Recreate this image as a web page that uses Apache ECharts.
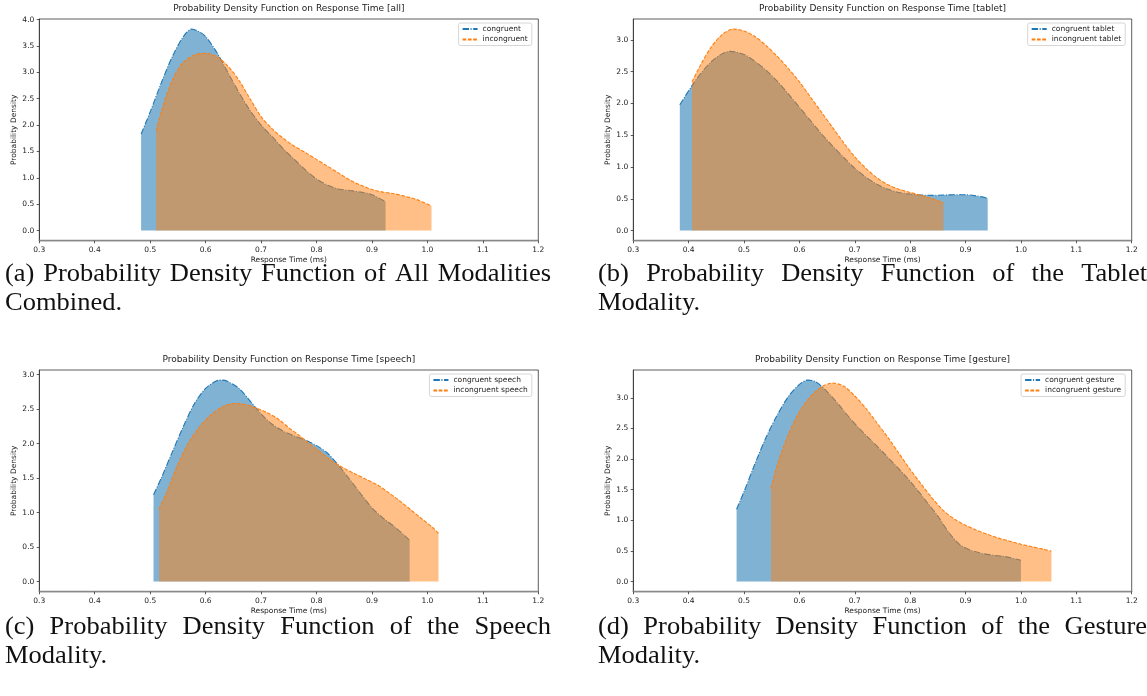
<!DOCTYPE html>
<html>
<head>
<meta charset="utf-8">
<script src="https://cdn.jsdelivr.net/npm/echarts@6/dist/echarts.min.js"></script>
<style>
  html, body { margin: 0; padding: 0; background: #fff; }
  #chart { width: 1147px; height: 696px; }
</style>
</head>
<body>
<div id="chart"></div>
<script>
// tick labels
const xTicks = [0.3, 0.4, 0.5, 0.6, 0.7, 0.8, 0.9, 1.0, 1.1, 1.2]
const yTicksAll = [0, 0.5, 1, 1.5, 2, 2.5, 3, 3.5, 4]
const yTicksTablet = [0, 0.5, 1, 1.5, 2, 2.5, 3]
const yTicksSpeech = [0, 0.5, 1, 1.5, 2, 2.5, 3]
const yTicksGesture = [0, 0.5, 1, 1.5, 2, 2.5, 3]

// [all]
const allCongX = [0.4836, 0.50, 0.52, 0.54, 0.56, 0.575, 0.59, 0.60, 0.62, 0.64, 0.66, 0.68, 0.70, 0.72, 0.74, 0.76, 0.78, 0.80, 0.82, 0.84, 0.86, 0.88, 0.90, 0.9245]
const allCongY = [1.83, 2.25, 2.80, 3.30, 3.68, 3.82, 3.76, 3.68, 3.38, 3.00, 2.62, 2.28, 2.00, 1.78, 1.55, 1.35, 1.15, 0.98, 0.86, 0.79, 0.76, 0.73, 0.68, 0.55]
const allIncX = [0.5107, 0.52, 0.53, 0.54, 0.55, 0.56, 0.58, 0.60, 0.62, 0.64, 0.66, 0.68, 0.70, 0.72, 0.74, 0.76, 0.78, 0.80, 0.82, 0.84, 0.86, 0.88, 0.90, 0.92, 0.94, 0.96, 0.98, 1.0074]
const allIncY = [1.89, 2.25, 2.58, 2.85, 3.05, 3.19, 3.33, 3.36, 3.30, 3.12, 2.85, 2.50, 2.16, 1.93, 1.75, 1.60, 1.48, 1.35, 1.22, 1.09, 0.96, 0.86, 0.78, 0.73, 0.70, 0.65, 0.59, 0.47]

// [tablet]
const tabletCongX = [0.384, 0.406, 0.42, 0.44, 0.46, 0.475, 0.50, 0.52, 0.54, 0.56, 0.58, 0.60, 0.62, 0.64, 0.66, 0.68, 0.70, 0.72, 0.74, 0.76, 0.78, 0.80, 0.82, 0.84, 0.86, 0.88, 0.90, 0.92, 0.94]
const tabletCongY = [1.98, 2.28, 2.45, 2.65, 2.78, 2.82, 2.77, 2.66, 2.52, 2.35, 2.15, 1.94, 1.73, 1.52, 1.33, 1.15, 0.98, 0.84, 0.73, 0.65, 0.60, 0.575, 0.56, 0.555, 0.56, 0.565, 0.565, 0.545, 0.51]
const tabletIncX = [0.406, 0.42, 0.44, 0.46, 0.48, 0.50, 0.52, 0.54, 0.56, 0.58, 0.60, 0.62, 0.64, 0.66, 0.68, 0.70, 0.72, 0.74, 0.76, 0.78, 0.80, 0.82, 0.84, 0.86]
const tabletIncY = [2.34, 2.58, 2.88, 3.08, 3.17, 3.14, 3.05, 2.91, 2.74, 2.55, 2.34, 2.10, 1.86, 1.62, 1.38, 1.16, 0.98, 0.83, 0.72, 0.65, 0.60, 0.555, 0.50, 0.44]

// [speech]
const speechCongX = [0.506, 0.52, 0.54, 0.56, 0.58, 0.60, 0.62, 0.63, 0.64, 0.66, 0.68, 0.70, 0.72, 0.74, 0.76, 0.78, 0.80, 0.82, 0.84, 0.86, 0.88, 0.90, 0.92, 0.94, 0.96, 0.968]
const speechCongY = [1.26, 1.50, 1.88, 2.25, 2.58, 2.80, 2.91, 2.92, 2.90, 2.80, 2.62, 2.43, 2.28, 2.18, 2.11, 2.05, 1.97, 1.86, 1.68, 1.48, 1.27, 1.07, 0.92, 0.80, 0.66, 0.60]
const speechIncX = [0.516, 0.53, 0.55, 0.57, 0.59, 0.61, 0.63, 0.65, 0.67, 0.69, 0.71, 0.73, 0.75, 0.77, 0.79, 0.81, 0.83, 0.85, 0.87, 0.89, 0.91, 0.93, 0.95, 0.97, 0.99, 1.01, 1.02]
const speechIncY = [1.05, 1.30, 1.70, 2.02, 2.25, 2.42, 2.53, 2.58, 2.57, 2.52, 2.45, 2.36, 2.23, 2.11, 1.98, 1.86, 1.74, 1.64, 1.56, 1.48, 1.40, 1.29, 1.17, 1.04, 0.91, 0.78, 0.70]

// [gesture]
const gestureCongX = [0.4865, 0.50, 0.52, 0.54, 0.56, 0.58, 0.60, 0.615, 0.63, 0.65, 0.67, 0.69, 0.71, 0.73, 0.75, 0.77, 0.79, 0.81, 0.83, 0.85, 0.87, 0.89, 0.91, 0.93, 0.95, 0.97, 0.99, 1.0]
const gestureCongY = [1.18, 1.47, 1.93, 2.36, 2.72, 3.02, 3.22, 3.29, 3.26, 3.10, 2.90, 2.68, 2.48, 2.30, 2.12, 1.93, 1.74, 1.53, 1.30, 1.07, 0.80, 0.60, 0.51, 0.46, 0.43, 0.41, 0.37, 0.35]
const gestureIncX = [0.5487, 0.56, 0.58, 0.60, 0.62, 0.64, 0.66, 0.68, 0.70, 0.72, 0.74, 0.76, 0.78, 0.80, 0.82, 0.84, 0.86, 0.88, 0.90, 0.92, 0.94, 0.96, 0.98, 1.00, 1.02, 1.04, 1.055]
const gestureIncY = [1.52, 1.90, 2.40, 2.77, 3.02, 3.18, 3.24, 3.19, 3.03, 2.83, 2.59, 2.35, 2.09, 1.83, 1.59, 1.36, 1.16, 1.02, 0.92, 0.84, 0.77, 0.71, 0.66, 0.61, 0.57, 0.53, 0.50]

const panels = [
  { title: 'Probability Density Function on Response Time [all]', names: ['congruent', 'incongruent'],
    cong: [allCongX, allCongY], inc: [allIncX, allIncY], yTicks: yTicksAll,
    grid: { left: 39.3, top: 19, width: 499, height: 221.7 } },
  { title: 'Probability Density Function on Response Time [tablet]', names: ['congruent tablet', 'incongruent tablet'],
    cong: [tabletCongX, tabletCongY], inc: [tabletIncX, tabletIncY], yTicks: yTicksTablet,
    grid: { left: 633.3, top: 19, width: 498.4, height: 221.7 } },
  { title: 'Probability Density Function on Response Time [speech]', names: ['congruent speech', 'incongruent speech'],
    cong: [speechCongX, speechCongY], inc: [speechIncX, speechIncY], yTicks: yTicksSpeech,
    grid: { left: 39.3, top: 370, width: 499, height: 221.7 } },
  { title: 'Probability Density Function on Response Time [gesture]', names: ['congruent gesture', 'incongruent gesture'],
    cong: [gestureCongX, gestureCongY], inc: [gestureIncX, gestureIncY], yTicks: yTicksGesture,
    grid: { left: 633.3, top: 370, width: 498.4, height: 221.7 } }
]

const captions = [
  ['(a) Probability Density Function of All Modalities', 5, 551, 274, true],
  ['Combined.', 5, 551, 303, false],
  ['(b) Probability Density Function of the Tablet', 598, 1147, 274, true],
  ['Modality.', 598, 1147, 303, false],
  ['(c) Probability Density Function of the Speech', 5, 551, 627, true],
  ['Modality.', 5, 551, 656, false],
  ['(d) Probability Density Function of the Gesture', 598, 1147, 627, true],
  ['Modality.', 598, 1147, 656, false]
]

const BLUE = '#1f77b4'
const ORANGE = '#ff7f0e'
const W = 1147
const small = 7.5

const zip = (xs, ys) => xs.map((x, i) => [x, ys[i]])

const grids = [], xAxes = [], yAxes = [], series = [], legends = [], titles = []
panels.forEach((p, i) => {
  const g = p.grid
  grids.push({ left: g.left, top: g.top, width: g.width, height: g.height, show: true, borderColor: '#333', borderWidth: 0.8, containLabel: false })
  const ymaxData = Math.max(...p.cong[1], ...p.inc[1])
  xAxes.push({
    gridIndex: i, type: 'value', min: 0.3, max: 1.2,
    name: 'Response Time (ms)', nameLocation: 'middle', nameGap: 15.5,
    nameTextStyle: { fontSize: small, color: '#222' },
    axisLine: { show: true, onZero: false, lineStyle: { color: '#888', width: 1.4 } },
    axisTick: { show: true, length: 2.6, customValues: xTicks, lineStyle: { color: '#333', width: 0.8 } },
    axisLabel: { customValues: xTicks, formatter: v => v.toFixed(1), fontSize: small, color: '#222', margin: 5 },
    splitLine: { show: false }
  })
  yAxes.push({
    gridIndex: i, type: 'value', min: -0.05 * ymaxData, max: 1.05 * ymaxData,
    name: 'Probability Density', nameLocation: 'middle', nameGap: 21, nameRotate: 90,
    nameTextStyle: { fontSize: small, color: '#222' },
    axisLine: { show: true, onZero: false, lineStyle: { color: '#333', width: 0.8 } },
    axisTick: { show: true, length: 2.6, customValues: p.yTicks, lineStyle: { color: '#333', width: 0.8 } },
    axisLabel: { customValues: p.yTicks, formatter: v => v.toFixed(1), fontSize: small, color: '#222', margin: 5 },
    splitLine: { show: false }
  })
  series.push({
    name: p.names[0], type: 'line', xAxisIndex: i, yAxisIndex: i,
    data: zip(p.cong[0], p.cong[1]), symbol: 'none', showSymbol: false, smooth: 0.3,
    lineStyle: { color: BLUE, width: 1.1, type: [6.4, 1.6, 1, 1.6] },
    itemStyle: { color: BLUE },
    areaStyle: { color: BLUE, opacity: 0.57 }, z: 2
  })
  series.push({
    name: p.names[1], type: 'line', xAxisIndex: i, yAxisIndex: i,
    data: zip(p.inc[0], p.inc[1]), symbol: 'none', showSymbol: false, smooth: 0.3,
    lineStyle: { color: ORANGE, width: 1.1, type: [3.7, 1.6] },
    itemStyle: { color: ORANGE },
    areaStyle: { color: ORANGE, opacity: 0.5 }, z: 3
  })
  legends.push({
    data: p.names, orient: 'vertical',
    right: W - (g.left + g.width) + 6.5, top: g.top + 4,
    itemWidth: 15, itemHeight: 7, itemGap: 2.5,
    padding: [2, 4, 2, 3],
    borderColor: '#ccc', borderWidth: 0.8, borderRadius: 2,
    backgroundColor: 'rgba(255,255,255,0.8)',
    itemStyle: { opacity: 0 },
    textStyle: { fontSize: small, color: '#222' }
  })
  titles.push({
    text: p.title, left: g.left + g.width / 2, top: g.top - 14.5, textAlign: 'center', padding: 0,
    textStyle: { fontSize: 9, fontWeight: 'normal', color: '#222' }
  })
})

// captions, justified like the LaTeX source
const capFamily = 'Liberation Serif'
const capSize = 25
const capScale = 1.06
const ctx = document.createElement('canvas').getContext('2d')
ctx.font = capSize + 'px "' + capFamily + '"'
const graphic = []
captions.forEach(([text, x0, x1, y, justify]) => {
  const words = text.split(' ')
  const widths = words.map(w => ctx.measureText(w).width * capScale)
  const total = widths.reduce((a, b) => a + b, 0)
  let gap = ctx.measureText(' ').width * capScale
  if (justify && words.length > 1) gap = (x1 - x0 - total) / (words.length - 1)
  let x = x0
  words.forEach((w, k) => {
    graphic.push({
      type: 'text', x: x, y: y, scaleX: capScale, silent: true,
      style: { text: w, fontSize: capSize, fontFamily: capFamily, fill: '#111', verticalAlign: 'middle', align: 'left' }
    })
    x += widths[k] + gap
  })
})

const chart = echarts.init(document.getElementById('chart'), null, { renderer: 'canvas' })
chart.setOption({
  animation: false,
  backgroundColor: '#fff',
  textStyle: { fontFamily: 'DejaVu Sans' },
  title: titles,
  legend: legends,
  grid: grids,
  xAxis: xAxes,
  yAxis: yAxes,
  series: series,
  graphic: graphic
})
</script>
</body>
</html>
